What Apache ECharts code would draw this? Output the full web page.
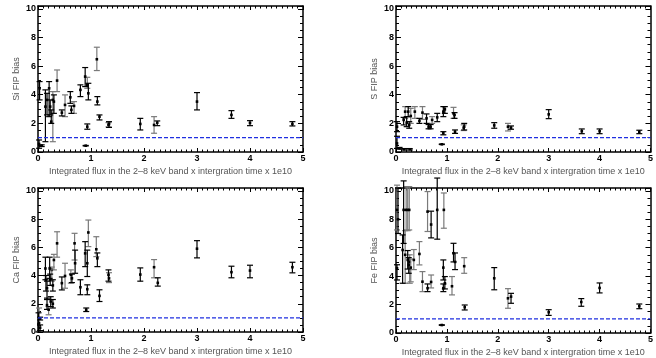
<!DOCTYPE html>
<html>
<head>
<meta charset="utf-8">
<script src="https://cdn.jsdelivr.net/npm/echarts@6/dist/echarts.min.js"></script>
<style>
  html, body { margin: 0; padding: 0; background: #fff; }
  #chart { width: 656px; height: 358px; }
</style>
</head>
<body>
<div id="chart"></div>
<script>
// each point: [flux, FIP bias, lower, upper]
const siBlack = [
  [0.03, 4.45, 3.64, 4.92], [0.02, 0.56, 0.26, 0.84], [0.07, 0.44, 0.38, 0.5],
  [0.14, 3.17, 0.72, 4.34], [0.17, 3.64, 2.59, 4.1], [0.21, 4.45, 2.47, 4.92],
  [0.23, 3.17, 2.59, 3.64], [0.25, 2.12, 2.0, 2.94], [0.3, 3.52, 2.7, 3.99],
  [0.45, 2.75, 2.52, 2.94], [0.61, 3.82, 3.4, 4.22], [0.63, 2.94, 2.7, 3.22],
  [0.8, 4.34, 3.87, 4.69], [0.89, 5.27, 4.57, 5.9], [0.95, 4.1, 3.64, 4.8],
  [0.93, 1.77, 1.59, 1.96], [0.9, 0.44, 0.42, 0.46], [1.12, 3.52, 3.29, 3.87],
  [1.16, 2.47, 2.24, 2.59], [1.34, 1.96, 1.72, 2.12], [1.93, 1.96, 1.54, 2.35],
  [2.25, 2.05, 1.84, 2.17], [3.0, 3.52, 2.94, 4.15], [3.65, 2.59, 2.35, 2.89],
  [4.0, 2.03, 1.84, 2.19], [4.8, 1.96, 1.82, 2.12]
];
const siGray = [
  [0.28, 3.64, 0.72, 4.22], [0.36, 4.99, 4.22, 5.73], [0.51, 3.29, 2.47, 3.99],
  [0.68, 3.22, 2.7, 3.52], [0.93, 4.69, 4.45, 5.22], [1.11, 6.48, 5.69, 7.32],
  [1.33, 1.9, 1.75, 2.05], [2.19, 1.89, 1.31, 2.47]
];
const sBlack = [
  [0.02, 1.77, 1.42, 2.12], [0.02, 0.6, 0.25, 1.1], [0.07, 0.26, 0.2, 0.32],
  [0.16, 0.19, 0.14, 0.24], [0.27, 0.19, 0.14, 0.24], [0.15, 2.24, 1.89, 2.42],
  [0.21, 2.05, 1.77, 2.47], [0.24, 2.82, 2.47, 3.17], [0.26, 1.89, 1.66, 2.12],
  [0.46, 2.17, 2.0, 2.35], [0.6, 2.35, 2.0, 2.66], [0.64, 1.77, 1.62, 1.92],
  [0.68, 1.77, 1.62, 1.92], [0.81, 2.42, 2.12, 2.7], [0.93, 2.82, 2.47, 3.17],
  [0.96, 2.98, 2.7, 3.17], [0.93, 1.31, 1.2, 1.42], [0.9, 0.54, 0.52, 0.56],
  [1.15, 2.59, 2.35, 2.75], [1.16, 1.42, 1.3, 1.54], [1.34, 1.77, 1.54, 2.0],
  [1.93, 1.86, 1.66, 2.05], [2.26, 1.7, 1.59, 1.82], [3.0, 2.63, 2.33, 2.96],
  [3.65, 1.45, 1.28, 1.61], [4.0, 1.45, 1.28, 1.61], [4.78, 1.4, 1.28, 1.52]
];
const sGray = [
  [0.18, 2.82, 2.35, 3.17], [0.29, 2.52, 2.0, 3.05], [0.37, 2.82, 2.35, 3.17],
  [0.52, 2.75, 2.28, 3.17], [0.71, 2.24, 2.0, 2.47], [1.13, 2.7, 2.35, 3.12],
  [1.33, 1.7, 1.5, 1.9], [2.2, 1.77, 1.47, 2.0]
];
const caBlack = [
  [0.01, 0.54, 0.0, 1.36], [0.04, 0.3, 0.1, 0.5], [0.04, 0.95, 0.85, 1.05],
  [0.14, 4.5, 3.7, 5.3], [0.15, 3.7, 2.9, 4.0], [0.17, 3.1, 2.3, 3.6],
  [0.17, 1.9, 1.6, 2.4], [0.22, 4.5, 3.8, 5.3], [0.23, 3.7, 3.3, 4.1],
  [0.24, 2.16, 1.8, 2.5], [0.28, 3.3, 2.9, 3.7], [0.28, 2.0, 1.7, 2.3],
  [0.45, 3.46, 2.98, 3.9], [0.64, 3.8, 3.5, 4.1], [0.7, 4.87, 4.16, 5.8],
  [0.8, 3.17, 2.64, 3.7], [0.89, 5.57, 4.63, 6.4], [0.93, 4.87, 3.93, 5.8],
  [0.93, 3.03, 2.64, 3.34], [0.91, 1.58, 1.45, 1.7], [1.12, 5.22, 4.63, 5.6],
  [1.16, 2.56, 2.16, 2.99], [1.33, 4.05, 3.6, 4.4], [1.93, 4.07, 3.6, 4.54],
  [2.26, 3.48, 3.25, 3.84], [3.0, 5.9, 5.25, 6.47], [3.65, 4.24, 3.84, 4.66],
  [4.0, 4.35, 3.84, 4.73], [4.8, 4.59, 4.19, 4.94]
];
const caGray = [
  [0.02, 0.63, 0.05, 1.7], [0.2, 1.58, 1.22, 1.8], [0.26, 4.4, 3.6, 4.6],
  [0.3, 5.1, 4.4, 5.5], [0.36, 6.28, 5.3, 7.1], [0.51, 3.97, 3.1, 4.87],
  [0.62, 4.05, 3.46, 4.4], [0.69, 6.28, 5.1, 6.99], [0.95, 7.05, 6.05, 7.93],
  [1.1, 5.86, 5.34, 6.75], [1.34, 3.8, 3.5, 4.2], [2.19, 4.59, 3.84, 5.13]
];
const feBlack = [
  [0.02, 4.55, 3.73, 4.8], [0.04, 8.0, 7.0, 10.2], [0.13, 5.84, 3.5, 6.9],
  [0.15, 8.66, 6.3, 10.7], [0.23, 5.14, 4.5, 5.8], [0.25, 4.79, 4.2, 5.3],
  [0.62, 3.15, 2.91, 3.45], [0.69, 7.63, 6.69, 8.57], [0.81, 8.66, 6.6, 10.9],
  [0.93, 4.6, 3.73, 5.14], [0.96, 3.5, 3.1, 3.97], [0.93, 3.15, 2.91, 3.45],
  [0.9, 0.56, 0.54, 0.58], [1.13, 5.61, 5.0, 6.31], [1.16, 5.0, 4.46, 5.63],
  [1.35, 1.81, 1.62, 1.97], [1.93, 3.85, 3.04, 4.6], [2.26, 2.56, 2.09, 2.79],
  [3.0, 1.46, 1.24, 1.64], [3.64, 2.18, 1.88, 2.42], [4.0, 3.17, 2.82, 3.52],
  [4.78, 1.88, 1.71, 2.04]
];
const feGray = [
  [0.02, 8.66, 7.25, 10.4], [0.18, 5.5, 3.5, 7.2], [0.2, 8.66, 7.25, 10.3],
  [0.23, 8.66, 7.2, 10.3], [0.26, 8.66, 7.25, 10.3], [0.27, 5.0, 3.5, 5.5],
  [0.29, 4.6, 3.6, 5.2], [0.35, 5.14, 4.46, 5.87], [0.46, 5.56, 4.79, 6.43],
  [0.52, 3.61, 2.91, 4.32], [0.62, 8.54, 7.14, 9.95], [0.69, 3.59, 3.17, 4.08],
  [0.94, 8.66, 7.37, 9.85], [1.1, 3.29, 2.68, 3.97], [1.34, 4.7, 4.2, 5.3],
  [2.2, 2.44, 1.74, 3.12]
];

const panelNames = ['Si FIP bias', 'S FIP bias', 'Ca FIP bias', 'Fe FIP bias'];
const panelBlack = [siBlack, sBlack, caBlack, feBlack];
const panelGray = [siGray, sGray, caGray, feGray];
const xTitle = 'Integrated flux in the 2\u20138 keV band x intergration time x 1e10';
const photosphere = 1;

const grids = [
  { left: 38, top: 6, width: 265, height: 146 },
  { left: 396, top: 6, width: 267, height: 146 },
  { left: 38, top: 188, width: 265, height: 144 },
  { left: 396, top: 188, width: 267, height: 145 }
];

const font = 'Liberation Sans, Arial, sans-serif';

function errBar(color) {
  return function (params, api) {
    const x = api.value(0);
    const p = api.coord([x, api.value(1)]);
    const lo = api.coord([x, api.value(2)]);
    const hi = api.coord([x, api.value(3)]);
    const w = 3;
    const st = { stroke: color, lineWidth: 1.2 };
    return {
      type: 'group',
      children: [
        { type: 'line', shape: { x1: p[0], y1: lo[1], x2: p[0], y2: hi[1] }, style: st },
        { type: 'line', shape: { x1: p[0] - w, y1: lo[1], x2: p[0] + w, y2: lo[1] }, style: st },
        { type: 'line', shape: { x1: p[0] - w, y1: hi[1], x2: p[0] + w, y2: hi[1] }, style: st },
        { type: 'rect', shape: { x: p[0] - 1.3, y: p[1] - 1.3, width: 2.6, height: 2.6 }, style: { fill: '#000' } }
      ]
    };
  };
}

const xAxis = [];
const yAxis = [];
const series = [];

grids.forEach((g, i) => {
  const line = { onZero: false, lineStyle: { color: '#000', width: 1.5 } };
  xAxis.push({
    type: 'value', gridIndex: i, position: 'bottom', min: 0, max: 5, interval: 1,
    axisLine: line,
    axisTick: { inside: true, length: 4, lineStyle: { color: '#000', width: 1 } },
    minorTick: { show: true, splitNumber: 10, length: 2.5, lineStyle: { color: '#000', width: 1 } },
    axisLabel: { color: '#000', fontWeight: 'bold', fontSize: 9, fontFamily: font, margin: 2 },
    splitLine: { show: false },
    name: xTitle, nameLocation: 'middle', nameGap: 15,
    nameTextStyle: { color: '#555', fontSize: 9, fontFamily: font }
  });
  xAxis.push({
    type: 'value', gridIndex: i, position: 'top', min: 0, max: 5, interval: 1,
    axisLine: line,
    axisTick: { inside: true, length: 4, lineStyle: { color: '#000', width: 1 } },
    minorTick: { show: true, splitNumber: 10, length: 2.5, lineStyle: { color: '#000', width: 1 } },
    axisLabel: { show: false },
    splitLine: { show: false }
  });
  yAxis.push({
    type: 'value', gridIndex: i, position: 'left', min: 0, max: 10.2, interval: 2,
    axisLine: line,
    axisTick: { inside: true, length: 5, lineStyle: { color: '#000', width: 1 } },
    minorTick: { show: true, splitNumber: 4, length: 3, lineStyle: { color: '#000', width: 1 } },
    axisLabel: { color: '#000', fontWeight: 'bold', fontSize: 9, fontFamily: font, margin: 2,
      showMaxLabel: false, padding: [0, 0, 5, 0] },
    splitLine: { show: false },
    name: panelNames[i], nameLocation: 'middle', nameGap: 17,
    nameTextStyle: { color: '#555', fontSize: 9, fontFamily: font }
  });
  yAxis.push({
    type: 'value', gridIndex: i, position: 'right', min: 0, max: 10.2, interval: 2,
    axisLine: line,
    axisTick: { inside: true, length: 5, lineStyle: { color: '#000', width: 1 } },
    minorTick: { show: true, splitNumber: 4, length: 3, lineStyle: { color: '#000', width: 1 } },
    axisLabel: { show: false },
    splitLine: { show: false }
  });

  series.push({
    type: 'line', xAxisIndex: 2 * i, yAxisIndex: 2 * i,
    data: [[0, photosphere], [5, photosphere]],
    symbol: 'none', silent: true,
    lineStyle: { color: '#1f2fe0', width: 1.3, type: [4, 2] }
  });
  series.push({
    type: 'custom', xAxisIndex: 2 * i, yAxisIndex: 2 * i,
    renderItem: errBar('#7a7a7a'), clip: false,
    encode: { x: 0, y: [1, 2, 3] },
    data: panelGray[i]
  });
  series.push({
    type: 'custom', xAxisIndex: 2 * i, yAxisIndex: 2 * i,
    renderItem: errBar('#000'), clip: false,
    encode: { x: 0, y: [1, 2, 3] },
    data: panelBlack[i]
  });
});

const chart = echarts.init(document.getElementById('chart'), null, { renderer: 'canvas' });
chart.setOption({
  animation: false,
  backgroundColor: '#fff',
  grid: grids,
  xAxis: xAxis,
  yAxis: yAxis,
  series: series
});
</script>
</body>
</html>
